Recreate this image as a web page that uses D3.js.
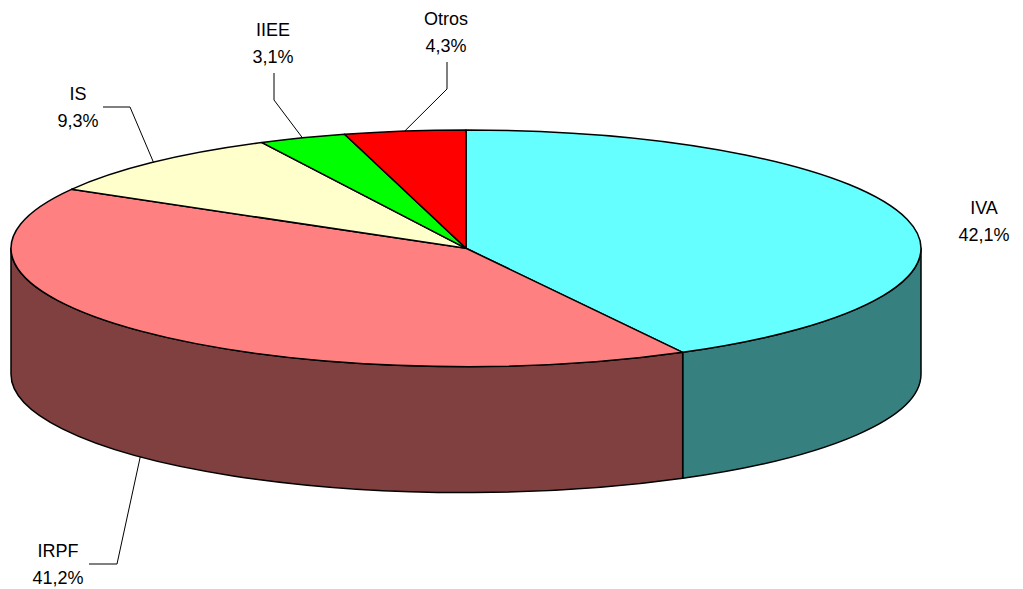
<!DOCTYPE html>
<html><head><meta charset="utf-8">
<script src="https://cdn.jsdelivr.net/npm/d3@7"></script>
<style>body{margin:0;background:#fff}svg{display:block}</style>
</head><body>
<script>
const categories = ["IVA", "IRPF", "IS", "IIEE", "Otros"];
const values = [42.1, 41.2, 9.3, 3.1, 4.3];
const labels = ["42,1%", "41,2%", "9,3%", "3,1%", "4,3%"];
const topColors = ["#66FFFF", "#FF8080", "#FFFFCC", "#00FF00", "#FF0000"];
const sideColors = ["#378080", "#804040", "#808066", "#008000", "#800000"];

// layout (label centres and leader elbows)
const labelPos = [[984, 207], [58, 550], [78, 93], [273, 29], [446, 18]];
const elbows = [null, [[89, 564], [117, 564]], [[103, 107], [130, 107]], [[274, 73], [274, 100]], [[447, 62], [447, 89]]];

const W = 1023, H = 589;
const cx = 466, cy = 248.3, rx = 455, ry = 118.3, depth = 126;

const svg = d3.select("body").append("svg").attr("width", W).attr("height", H);
const pie = d3.pie().sort(null).value(d => d)(values);
const P = (t, dy = 0) => [cx + rx * Math.sin(t), cy - ry * Math.cos(t) + dy];

// side walls (front half: pi/2 .. 3pi/2)
const gSide = svg.append("g");
pie.forEach((s, i) => {
  const a = Math.max(s.startAngle, Math.PI / 2), b = Math.min(s.endAngle, 3 * Math.PI / 2);
  if (a >= b) return;
  const p1 = P(a), p2 = P(b), p3 = P(b, depth), p4 = P(a, depth);
  const large = (b - a) > Math.PI ? 1 : 0;
  const d = `M${p1}A${rx},${ry} 0 ${large} 1 ${p2}L${p3}A${rx},${ry} 0 ${large} 0 ${p4}Z`;
  gSide.append("path").attr("d", d).attr("fill", sideColors[i])
    .attr("stroke", "#000").attr("stroke-width", 1.5).attr("stroke-linejoin", "round");
});

// top faces
const gTop = svg.append("g");
pie.forEach((s, i) => {
  const p1 = P(s.startAngle), p2 = P(s.endAngle);
  const large = (s.endAngle - s.startAngle) > Math.PI ? 1 : 0;
  const d = `M${cx},${cy}L${p1}A${rx},${ry} 0 ${large} 1 ${p2}Z`;
  gTop.append("path").attr("d", d).attr("fill", topColors[i])
    .attr("stroke", "#000").attr("stroke-width", 1.5).attr("stroke-linejoin", "round");
});

// leader lines
const gLead = svg.append("g");
pie.forEach((s, i) => {
  if (!elbows[i]) return;
  const mid = (s.startAngle + s.endAngle) / 2;
  const front = Math.cos(mid) < 0;
  const anchor = P(mid, front ? depth : 0);
  const pts = elbows[i].concat([anchor]);
  gLead.append("polyline").attr("points", pts.map(p => p.join(",")).join(" "))
    .attr("fill", "none").attr("stroke", "#000").attr("stroke-width", 1);
});

// labels
const gLab = svg.append("g").attr("font-family", "Liberation Sans, Arial, sans-serif")
  .attr("font-size", 18).attr("fill", "#000").attr("text-anchor", "middle");
categories.forEach((c, i) => {
  const [x, y] = labelPos[i];
  gLab.append("text").attr("x", x).attr("y", y + 6.5).text(c);
  gLab.append("text").attr("x", x).attr("y", y + 33.5).text(labels[i]);
});
</script>
</body></html>
